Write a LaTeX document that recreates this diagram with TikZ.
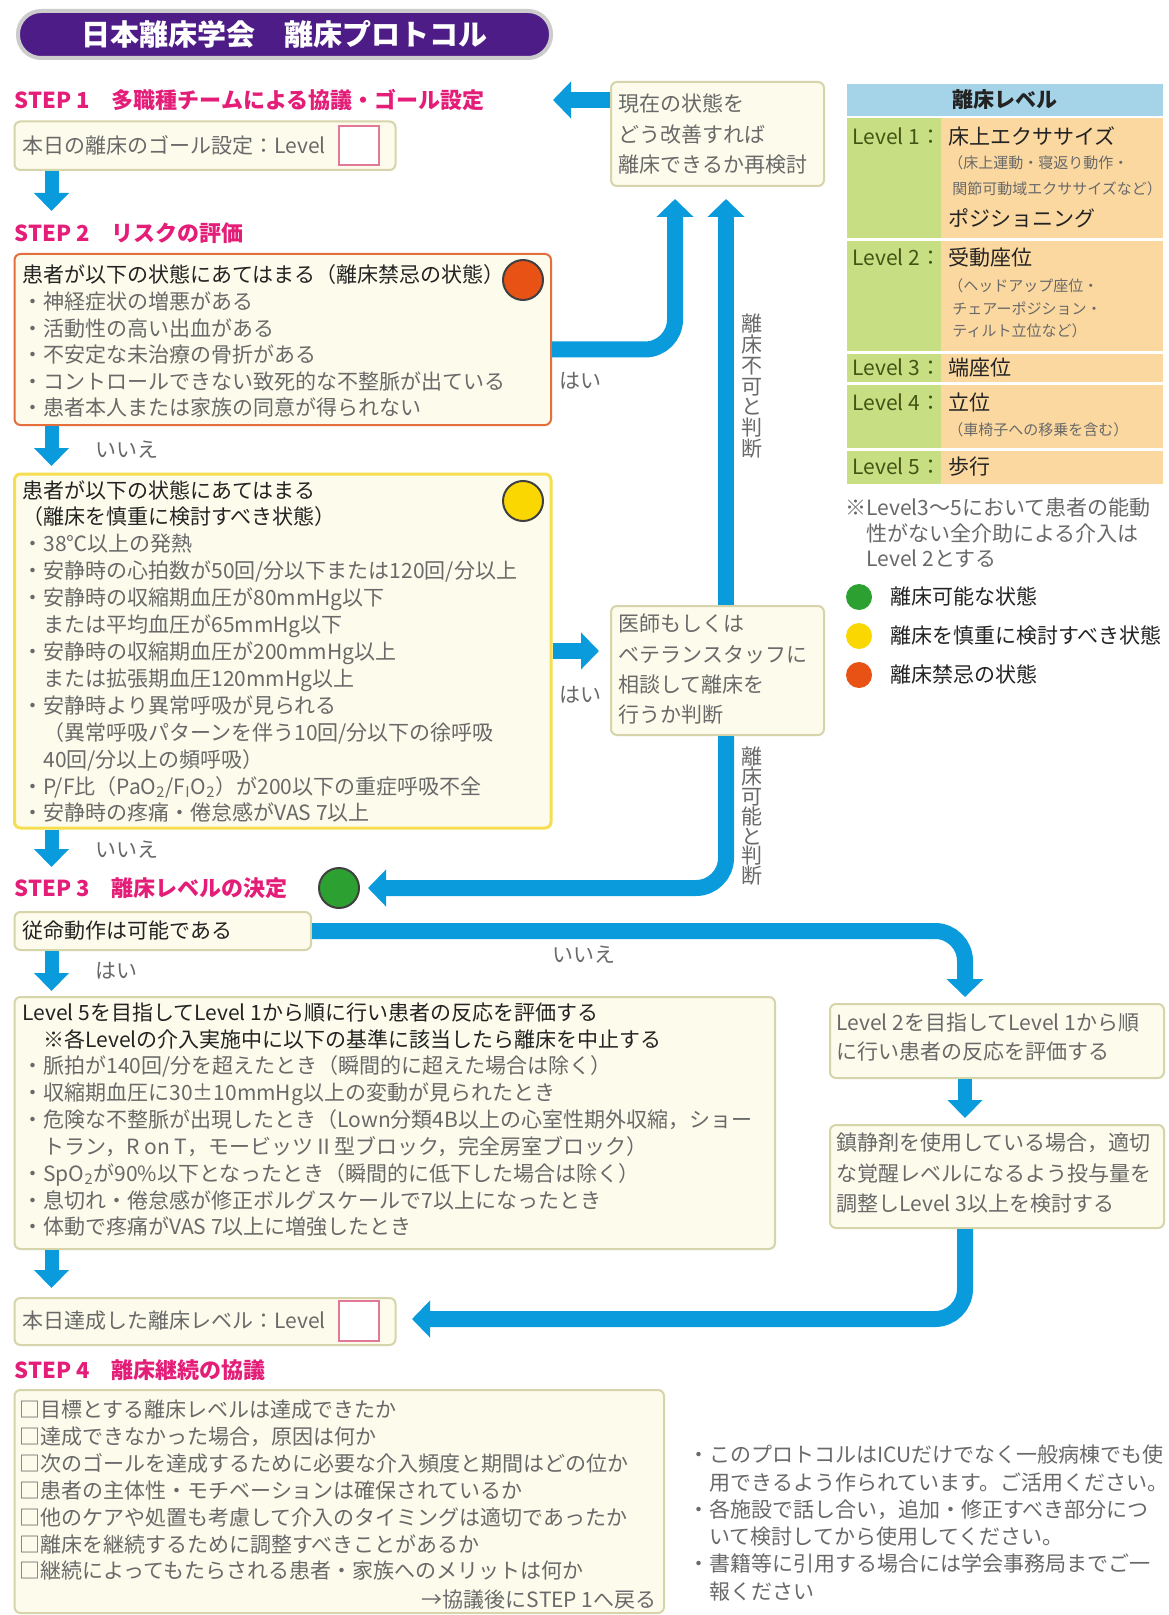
\documentclass[tikz,border=0pt]{standalone}
\usepackage{fontspec}
\setmainfont{Noto Sans CJK JP}
\usetikzlibrary{arrows.meta}
\definecolor{ttlpurple}{RGB}{78,28,135}
\definecolor{stepmag}{RGB}{228,30,120}
\definecolor{boxfill}{RGB}{253,252,236}
\definecolor{boxline}{RGB}{214,212,170}
\definecolor{redline}{RGB}{228,110,60}
\definecolor{yelline}{RGB}{246,222,80}
\definecolor{bodygray}{RGB}{105,105,105}
\definecolor{darktxt}{RGB}{35,35,35}
\definecolor{arrblue}{RGB}{10,155,220}
\definecolor{tblblue}{RGB}{165,212,232}
\definecolor{tblgreen}{RGB}{200,222,130}
\definecolor{tblorange}{RGB}{251,216,160}
\definecolor{lvgreen}{RGB}{65,85,20}
\definecolor{cred}{RGB}{232,82,20}
\definecolor{cyel}{RGB}{250,215,0}
\definecolor{cgreen}{RGB}{45,160,50}
\definecolor{pinkline}{RGB}{225,120,150}
\newcommand\mkbox[6]{\node[#1, minimum width={(#5-(#3))*0.5pt}, minimum height={(#6-(#4))*0.5pt}] (#2) at ({(#3+#5)/2},{(#4+#6)/2}) {};}
\newcommand\txtlines[6]{\foreach \tline [count=\k from 0] in {#6} {\node[#5] (#1\k) at (#2,{#3+\k*#4}) {\tline};}}
\begin{document}
\begin{tikzpicture}[x=0.5pt,y=-0.5pt,
  box/.style={draw=boxline, fill=boxfill, line width=1pt, rounded corners=3pt, inner sep=0pt},
  redbox/.style={box, draw=redline},
  yelbox/.style={box, draw=yelline, line width=1.5pt},
  pinksq/.style={draw=pinkline, fill=white, line width=1pt, inner sep=0pt},
  fsz/.style={font=\fontsize{#1}{#1}\selectfont, text height={0.88*#1pt}, text depth={0.12*#1pt}},
  txt/.style={inner sep=0pt, anchor=west},
  body/.style={txt, fsz=10.5, text=bodygray},
  hd/.style={txt, fsz=10.5, text=darktxt},
  small/.style={txt, fsz=7.5, text=bodygray},
  stephd/.style={txt, fsz=11, text=stepmag, font=\bfseries\fontsize{11}{11}\selectfont},
  vtxt/.style={inner sep=0pt, anchor=center, fsz=10.5, text=bodygray},
  conn/.style={draw=arrblue, line width=8pt, -{Triangle[width=18pt,length=9pt]}},
  sarr/.style={draw=arrblue, line width=7pt, -{Triangle[width=17pt,length=9pt]}},
  sigdot/.style={circle, draw=black!75, line width=1pt, minimum size=20pt, inner sep=0pt},
  legdot/.style={circle, minimum size=13pt, inner sep=0pt},
]
\useasboundingbox (0,0) rectangle (1168,1615);
\fill[white] (0,0) rectangle (1168,1615);

% title
\mkbox{draw=black!20, line width=2pt, fill=ttlpurple, rounded corners=11.5pt, inner sep=0pt}{title}{18}{11}{551}{58}
\node[inner sep=0pt, text=white, font=\bfseries\fontsize{14.5}{14.5}\selectfont] (titletxt) at (title) {日本離床学会　離床プロトコル};

% STEP 1
\node[stephd] (st1) at (14.5,100) {STEP 1　多職種チームによる協議・ゴール設定};
\mkbox{box}{goal}{14.5}{121.5}{395.5}{170}
\node[body] (goaltxt) at (22,146) {本日の離床のゴール設定：Level};
\mkbox{pinksq}{goalsq}{339}{126}{379}{165}
\coordinate (a1) at (51.5,211);
\draw[sarr] (goal.south -| a1) -- (a1);

% STEP 2
\node[stephd] (st2) at (14.5,233) {STEP 2　リスクの評価};
\mkbox{redbox}{risk}{14.5}{254}{551}{425}
\node[hd] (riskhd) at (22,275) {患者が以下の状態にあてはまる（離床禁忌の状態）};
\txtlines{rk}{22}{302}{26.5}{body}{・神経症状の増悪がある,・活動性の高い出血がある,・不安定な未治療の骨折がある,・コントロールできない致死的な不整脈が出ている,・患者本人または家族の同意が得られない}
\node[sigdot, fill=cred] (rdot) at (523,280) {};
\node[body, anchor=center] (hai1) at (580,381) {はい};

\coordinate (a2) at (51.5,466);
\draw[sarr] (risk.south -| a2) -- (a2);
\node[body] (iie1) at (95,450) {いいえ};

\mkbox{yelbox}{caut}{14.5}{474}{551}{828}
\node[hd] (cauthd1) at (22,491) {患者が以下の状態にあてはまる};
\node[hd] (cauthd2) at (22,517) {（離床を慎重に検討すべき状態）};
\txtlines{ct}{22}{544}{26.9}{body}{・38℃以上の発熱,・安静時の心拍数が50回/分以下または120回/分以上,・安静時の収縮期血圧が80mmHg以下,　または平均血圧が65mmHg以下,・安静時の収縮期血圧が200mmHg以上,　または拡張期血圧120mmHg以上,・安静時より異常呼吸が見られる,　（異常呼吸パターンを伴う10回/分以下の徐呼吸,　40回/分以上の頻呼吸）,{・P/F比（PaO\textsubscript{2}/F\textsubscript{I}O\textsubscript{2}）が200以下の重症呼吸不全},・安静時の疼痛・倦怠感がVAS 7以上}
\node[sigdot, fill=cyel] (ydot) at (523,501) {};

% middle column
\mkbox{box}{recheck}{611}{82}{824}{186}
\txtlines{rc}{618}{104}{30.5}{body}{現在の状態を,どう改善すれば,離床できるか再検討}
\coordinate (s1) at (553,100);
\draw[conn] (recheck.west |- s1) -- (s1);

\mkbox{box}{doc}{611}{606}{824}{735}
\txtlines{dc}{618}{624}{30.3}{body}{医師もしくは,ベテランスタッフに,相談して離床を,行うか判断}

\coordinate (r1) at (675,199);
\draw[conn, rounded corners=15pt] ([yshift=-5pt]risk.east) -| (r1);
\coordinate (nf) at (726,199);
\draw[conn] (doc.north -| nf) -- (nf);
\txtlines{vn}{752}{324}{20.7}{vtxt}{離,床,不,可,と,判,断}

\draw[conn] (caut.east) -- ([xshift=-5.5pt]caut.east -| doc.west);
\node[body, anchor=center] (hai2) at (580,695) {はい};

\coordinate (g) at (368,888);
\draw[conn, rounded corners=15pt] (doc.south -| nf) |- (g);
\txtlines{vk}{752}{757}{19.8}{vtxt}{離,床,可,能,と,判,断}

% STEP 3
\coordinate (a3) at (51.5,867);
\draw[sarr] (caut.south -| a3) -- (a3);
\node[body] (iie2) at (95,850) {いいえ};
\node[stephd] (st3) at (14.5,888) {STEP 3　離床レベルの決定};
\node[sigdot, fill=cgreen] (gdot) at (339,888) {};

\mkbox{box}{obey}{14.5}{912}{311}{950}
\node[hd] (obeytxt) at (22,931) {従命動作は可能である};
\coordinate (l2t) at (965,997);
\draw[conn, rounded corners=15pt] (obey.east) -| (l2t);
\node[body, anchor=center] (iie3) at (584,955) {いいえ};

\coordinate (a4) at (51.5,991);
\draw[sarr] (obey.south -| a4) -- (a4);
\node[body] (hai3) at (95,971) {はい};

\mkbox{box}{lvfive}{14.5}{997}{775}{1249}
\node[hd] (lvfivehd1) at (22,1013) {Level 5を目指してLevel 1から順に行い患者の反応を評価する};
\node[hd] (lvfivehd2) at (22,1040) {　※各Levelの介入実施中に以下の基準に該当したら離床を中止する};
\txtlines{stopc}{22}{1066}{26.83}{body}{・脈拍が140回/分を超えたとき（瞬間的に超えた場合は除く）,・収縮期血圧に30±10mmHg以上の変動が見られたとき,・危険な不整脈が出現したとき（Lown分類4B以上の心室性期外収縮，ショー,　トラン，R on T，モービッツⅡ型ブロック，完全房室ブロック）,{・SpO\textsubscript{2}が90\%以下となったとき（瞬間的に低下した場合は除く）},・息切れ・倦怠感が修正ボルグスケールで7以上になったとき,・体動で疼痛がVAS 7以上に増強したとき}

\mkbox{box}{l2box}{830}{1004}{1164}{1078}
\txtlines{lvtwo}{836}{1023}{29}{body}{Level 2を目指してLevel 1から順,に行い患者の反応を評価する}
\coordinate (a6) at (965,1118);
\draw[sarr] (l2box.south -| a6) -- (a6);
\mkbox{box}{sedbox}{830}{1125}{1164}{1228}
\txtlines{sd}{836}{1143}{30.5}{body}{鎮静剤を使用している場合，適切,な覚醒レベルになるよう投与量を,調整しLevel 3以上を検討する}

\coordinate (a5) at (51.5,1288);
\draw[sarr] (lvfive.south -| a5) -- (a5);
\mkbox{box}{ach}{14.5}{1298}{395.5}{1345}
\node[body] (achtxt) at (22,1321) {本日達成した離床レベル：Level};
\mkbox{pinksq}{achsq}{339}{1301}{379}{1341}
\coordinate (ac) at (412,1319);
\draw[conn, rounded corners=15pt] (sedbox.south -| l2t) |- (ac);

% STEP 4
\node[stephd] (st4) at (14.5,1370) {STEP 4　離床継続の協議};
\mkbox{box}{s4}{14.5}{1390}{664}{1613}
\txtlines{s4l}{19}{1410}{26.8}{body}{□目標とする離床レベルは達成できたか,□達成できなかった場合，原因は何か,□次のゴールを達成するために必要な介入頻度と期間はどの位か,□患者の主体性・モチベーションは確保されているか,□他のケアや処置も考慮して介入のタイミングは適切であったか,□離床を継続するために調整すべきことがあるか,□継続によってもたらされる患者・家族へのメリットは何か}
\node[body, anchor=east] (back) at (657,1599) {→協議後にSTEP 1へ戻る};

\txtlines{nt}{688}{1455}{27.2}{body}{・このプロトコルはICUだけでなく一般病棟でも使,　用できるよう作られています。ご活用ください。,・各施設で話し合い，追加・修正すべき部分につ,　いて検討してから使用してください。,・書籍等に引用する場合には学会事務局までご一,　報ください}

% level table
\fill[tblblue] (847,84) rectangle (1163,116);
\node[inner sep=0pt, fsz=10.5, text=darktxt, font=\bfseries\fontsize{10.5}{10.5}\selectfont] (tblhd) at (1005,100) {離床レベル};
\foreach \ya/\yb in {118/238,241/351,354/382,385/448,451/484}{
  \fill[tblgreen] (847,\ya) rectangle (941,\yb);
  \fill[tblorange] (941,\ya) rectangle (1163,\yb);
}
\node[txt, fsz=10.5, text=lvgreen] (tl1) at (852,137) {Level 1：};
\node[txt, fsz=10.5, text=darktxt] (tl1n) at (948,137) {床上エクササイズ};
\node[small] (tl1a) at (948,163) {（床上運動・寝返り動作・};
\node[small] (tl1b) at (952,189) {関節可動域エクササイズなど）};
\node[txt, fsz=10.5, text=darktxt] (tl1p) at (948,219) {ポジショニング};
\node[txt, fsz=10.5, text=lvgreen] (tl2) at (852,258) {Level 2：};
\node[txt, fsz=10.5, text=darktxt] (tl2n) at (948,258) {受動座位};
\node[small] (tl2a) at (948,286) {（ヘッドアップ座位・};
\node[small] (tl2b) at (952,309) {チェアーポジション・};
\node[small] (tl2c) at (952,331) {ティルト立位など）};
\node[txt, fsz=10.5, text=lvgreen] (tl3) at (852,368) {Level 3：};
\node[txt, fsz=10.5, text=darktxt] (tl3n) at (948,368) {端座位};
\node[txt, fsz=10.5, text=lvgreen] (tl4) at (852,403) {Level 4：};
\node[txt, fsz=10.5, text=darktxt] (tl4n) at (948,403) {立位};
\node[small] (tl4a) at (948,430) {（車椅子への移乗を含む）};
\node[txt, fsz=10.5, text=lvgreen] (tl5) at (852,467) {Level 5：};
\node[txt, fsz=10.5, text=darktxt] (tl5n) at (948,467) {歩行};

\txtlines{nb}{845}{508}{25.5}{body}{※Level3～5において患者の能動,　性がない全介助による介入は,　Level 2とする}

\node[legdot, fill=cgreen] (lg1) at (859,597) {};
\node[legdot, fill=cyel] (lg2) at (859,636) {};
\node[legdot, fill=cred] (lg3) at (859,675) {};
\node[txt, fsz=10.5, text=darktxt] (lgt1) at (890,597) {離床可能な状態};
\node[txt, fsz=10.5, text=darktxt] (lgt2) at (890,636) {離床を慎重に検討すべき状態};
\node[txt, fsz=10.5, text=darktxt] (lgt3) at (890,675) {離床禁忌の状態};
\end{tikzpicture}
\end{document}
